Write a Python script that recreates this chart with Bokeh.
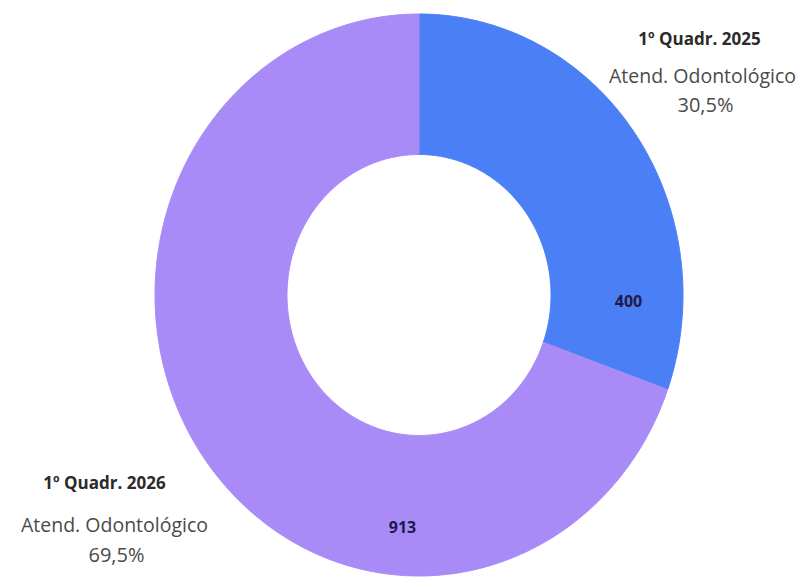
import numpy as np
from bokeh.plotting import figure
from bokeh.models import Range1d
from bokeh.core.properties import value
from bokeh.embed import file_html
from bokeh.resources import INLINE

# ---- data ----
categories = ["1º Quadr. 2025", "1º Quadr. 2026"]
subtitles = ["Atend. Odontológico", "Atend. Odontológico"]
values = [400, 913]
percent_labels = ["30,5%", "69,5%"]
colors = ["#4a7ff6", "#a98bf8"]

# ---- layout (screen-like coordinates) ----
W, H = 802, 577
cx, cy = 418.5, 294.5
rx, ry = 264, 281
inner = 0.5

p = figure(width=W, height=H, output_backend="svg", toolbar_location=None,
           x_range=Range1d(0, W), y_range=Range1d(H, 0),
           min_border=0)
p.axis.visible = False
p.grid.visible = False
p.outline_line_color = None
p.background_fill_color = "white"
p.border_fill_color = "white"

total = sum(values)
fracs = np.array(values) / total
starts = np.concatenate([[0], np.cumsum(fracs)[:-1]])
ends = np.cumsum(fracs)

xs, ys = [], []
for s, e in zip(starts, ends):
    t = np.linspace(s, e, 200) * 2 * np.pi
    ox = cx + rx * np.sin(t)
    oy = cy - ry * np.cos(t)
    ix = cx + inner * rx * np.sin(t[::-1])
    iy = cy - inner * ry * np.cos(t[::-1])
    xs.append(list(np.concatenate([ox, ix])))
    ys.append(list(np.concatenate([oy, iy])))

p.patches(xs=xs, ys=ys, fill_color=colors, line_color=colors, line_width=1)

# value labels inside the slices
val_x = [628, 402]
val_y = [300, 526]
p.text(x=val_x, y=val_y, text=[str(v) for v in values],
       text_font=value("Open Sans"), text_font_style="bold",
       text_font_size="16px", text_color="#1e1b4b",
       text_align="center", text_baseline="middle")

# outside labels
lab_x = [699, 104]
title_y = [38, 482]
sub_x = [702, 114]
sub_y = [75, 524]
pct_x = [705, 116]
pct_y = [104, 554]

p.text(x=lab_x, y=title_y, text=categories,
       text_font=value("Open Sans"), text_font_style="bold",
       text_font_size="17px", text_color="#2b2b2b",
       text_align="center", text_baseline="alphabetic")
p.text(x=sub_x, y=sub_y, text=subtitles,
       text_font=value("Open Sans"), text_font_size="19.5px",
       text_color="#4a4a4a", text_align="center", text_baseline="alphabetic")
p.text(x=pct_x, y=pct_y, text=percent_labels,
       text_font=value("Open Sans"), text_font_size="20px",
       text_color="#4a4a4a", text_align="center", text_baseline="alphabetic")

open("out.html", "w").write(file_html(p, INLINE))
